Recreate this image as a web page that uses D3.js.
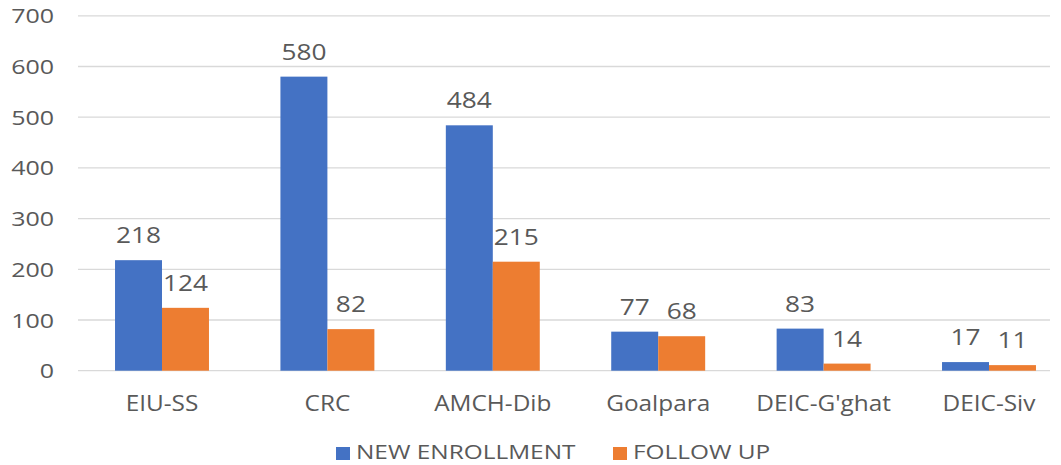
<!DOCTYPE html>
<html><head><meta charset="utf-8">
<script src="https://cdn.jsdelivr.net/npm/d3@7"></script>
<style>body{margin:0;background:#fff}svg text{font-family:"Open Sans",sans-serif;fill:#595959}</style>
</head><body><svg id="c" width="1061" height="465"></svg>
<script>
const categories=["EIU-SS","CRC","AMCH-Dib","Goalpara","DEIC-G'ghat","DEIC-Siv"];
const newEnrollment=[218,580,484,77,83,17];
const followUp=[124,82,215,68,14,11];
const seriesNames=["NEW ENROLLMENT","FOLLOW UP"];
const colors=["#4472C4","#ED7D31"];
const yTicks=[0,100,200,300,400,500,600,700];

const svg=d3.select("#c");
const gridL=78, gridR=1050;
const x=d3.scaleBand().domain(categories).range([79.3,1071.7]).paddingInner(0.432).paddingOuter(0.216);
const x1=d3.scaleBand().domain([0,1]).range([0,x.bandwidth()]);
const y=d3.scaleLinear().domain([0,700]).range([370.7,15.8]);

svg.append("g").selectAll("line").data(yTicks).join("line")
 .attr("x1",gridL).attr("x2",gridR).attr("y1",d=>y(d)).attr("y2",d=>y(d))
 .attr("stroke","#d9d9d9").attr("stroke-width",1.3);
svg.append("g").selectAll("text").data(yTicks).join("text")
 .attr("transform",d=>`translate(54,${y(d)+7.5}) scale(1.25,1)`).attr("text-anchor","end")
 .attr("font-size",20).text(d=>d);

const data=categories.map((c,i)=>({c,v:[newEnrollment[i],followUp[i]]}));
const g=svg.append("g").selectAll("g").data(data).join("g").attr("transform",d=>`translate(${x(d.c)},0)`);
g.selectAll("rect").data(d=>d.v.map((v,k)=>({v,k}))).join("rect")
 .attr("x",d=>x1(d.k)).attr("width",x1.bandwidth()).attr("y",d=>y(d.v)).attr("height",d=>y(0)-y(d.v))
 .attr("fill",d=>colors[d.k]);
g.selectAll("text").data(d=>d.v.map((v,k)=>({v,k}))).join("text")
 .attr("transform",d=>`translate(${x1(d.k)+x1.bandwidth()/2},${y(d.v)-17}) scale(1.25,1)`).attr("text-anchor","middle")
 .attr("font-size",21).text(d=>d.v);

svg.append("g").selectAll("text").data(categories).join("text")
 .attr("transform",d=>`translate(${x(d)+x.bandwidth()/2},411) scale(1.16,1)`).attr("text-anchor","middle")
 .attr("font-size",21).text(d=>d);

const lx=[336,613];
const lg=svg.append("g").selectAll("g").data(seriesNames).join("g").attr("transform",(d,i)=>`translate(${lx[i]},0)`);
lg.append("rect").attr("x",0).attr("y",447).attr("width",14).attr("height",13).attr("fill",(d,i)=>colors[i]);
lg.append("text").attr("transform","translate(20,459) scale(1.22,1)").attr("font-size",20).text(d=>d);
</script></body></html>
